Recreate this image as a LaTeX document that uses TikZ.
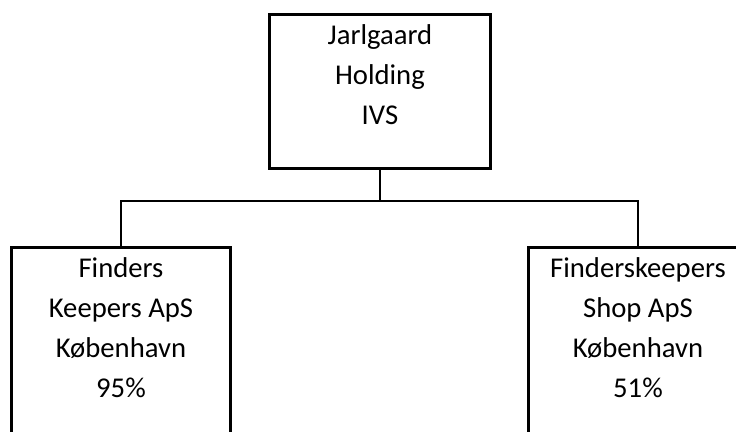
\documentclass[tikz,border=0pt]{standalone}
\usepackage{fontspec}
\setmainfont{Carlito}
\usetikzlibrary{positioning}

\begin{document}
\begin{tikzpicture}[x=0.75pt,y=-0.75pt,
    company/.style={draw,line width=2.2pt,anchor=north west,align=center,
      inner sep=0pt,minimum width=164.25pt,font=\fontsize{21.5}{30}\selectfont},
    link/.style={line width=1.1pt}]

  \useasboundingbox (0,0) rectangle (736,432);

  % Companies
  \node[company,minimum width=165.75pt,minimum height=115.5pt] (holding) at (268,13)
    {Jarlgaard\\Holding\\IVS\\[-4.5pt]\mbox{}};
  \node[company,minimum height=145.5pt] (keepers) at (10,246)
    {Finders\\Keepers ApS\\København\\95\%\\[-4.5pt]\mbox{}};
  \node[company,minimum height=145.5pt] (shop) at (527,246)
    {Finderskeepers\\Shop ApS\\København\\51\%\\[-4.5pt]\mbox{}};

  % Ownership lines
  \coordinate (bus) at ([yshift=-23.25pt]holding.south);
  \draw[link] (holding.south) -- (bus);
  \draw[link] (keepers.north) |- (bus) -| (shop.north);

\end{tikzpicture}
\end{document}
